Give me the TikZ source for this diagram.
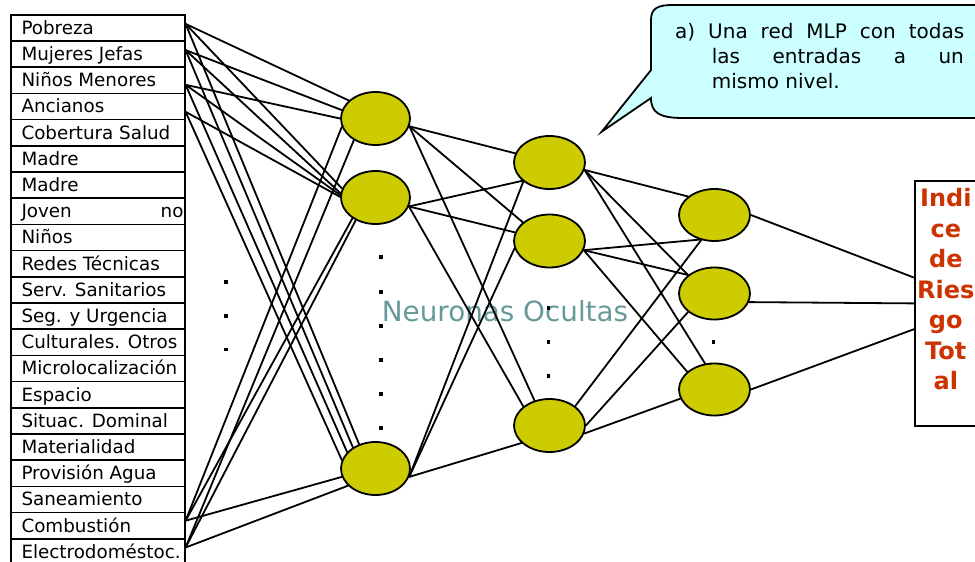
\documentclass[tikz,border=0pt]{standalone}
\usepackage{fontspec}
\setmainfont{DejaVu Sans}
\usetikzlibrary{shapes.geometric}
\definecolor{neuronfill}{RGB}{204,204,0}
\definecolor{bubble}{RGB}{204,255,255}
\definecolor{hidtxt}{RGB}{102,153,153}
\definecolor{outred}{RGB}{204,51,0}
\newcommand\rowlabel[1]{\makebox[174pt][l]{\hspace{10.7pt}#1}}
\begin{document}
\begin{tikzpicture}[x=1pt,y=-1pt,
  inrow/.style={draw, line width=1.6pt, rectangle, inner sep=0pt, minimum width=174pt,
    text height=19.5pt, text depth=6.7pt, anchor=north west, font=\fontsize{18.3}{22}\selectfont},
  neuron/.style={ellipse, draw, line width=1.8pt, fill=neuronfill, inner sep=0pt,
    minimum width=69pt, minimum height=53pt},
  neuronw/.style={neuron, minimum width=71pt},
  conn/.style={draw, line width=1.8pt, line cap=round},
  dotsq/.style={rectangle, fill=black, inner sep=0pt, minimum size=3.4pt},
  txt/.style={font=\fontsize{20}{24}\selectfont, inner sep=0pt, anchor=base west}
]
\useasboundingbox (0,0) rectangle (975,562);

% input rows
\foreach \t [count=\i] in {Pobreza, Mujeres Jefas, Niños Menores, Ancianos, Cobertura Salud,
  Madre, Madre, {Joven\hfill no\hspace{1.3pt}}, Niños, Redes Técnicas, Serv. Sanitarios,
  Seg. y Urgencia, Culturales. Otros, Microlocalización, Espacio, Situac. Dominal,
  Materialidad, Provisión Agua, Saneamiento, Combustión, Electrodoméstoc.}
  \node[inrow] (in\i) at (10,{14+26.2*(\i-1)}) {\rowlabel{\t}};

% callout
\draw[line width=1.8pt, fill=bubble] (995,5) -- (673,5)
  .. controls (658,5) and (651,8) .. (651,20) -- (651,70) -- (601.7,131.7) -- (651,98)
  .. controls (651,113) and (660,118) .. (683,118) -- (995,118) -- cycle;
\node[txt] (c1) at (675,38.3) {\makebox[289pt][s]{a) Una red MLP con todas}};
\node[txt] (c2) at (711.7,63.3) {\makebox[252pt][s]{las entradas a un}};
\node[txt] (c3) at (711.7,88.3) {mismo nivel.};

% hidden label
\node[inner sep=0pt, anchor=base west, text=hidtxt, font=\fontsize{27.8}{32}\selectfont]
  (hl) at (381.7,321) {Neuronas Ocultas};

% output box
\node[draw, line width=1.8pt, rectangle, minimum width=76pt, minimum height=245pt,
  inner sep=0pt, anchor=north west] (out) at (914,180) {};
\node[anchor=north, align=center, inner sep=0pt, text=outred,
  font=\fontsize{24}{30.5}\selectfont\bfseries] (outlbl) at (945.8,188.2)
  {Indi\\ce\\de\\Ries\\go\\Tot\\al};

% neurons
\node[neuron] (h1a) at (375.5,118.5) {};
\node[neuron] (h1b) at (375.5,197.5) {};
\node[neuron] (h1c) at (375.5,468.5) {};
\node[neuronw] (h2a) at (549.5,162.5) {};
\node[neuronw] (h2b) at (549.5,241) {};
\node[neuronw] (h2c) at (549.5,425.5) {};
\node[neuronw, minimum height=52pt] (h3a) at (714.5,215) {};
\node[neuronw, minimum height=52pt] (h3b) at (714.5,293.5) {};
\node[neuronw, minimum height=52pt] (h3c) at (714.5,389.5) {};

% dots
\node[dotsq] (d1) at (226,282) {};
\node[dotsq] (d2) at (226,316) {};
\node[dotsq] (d3) at (226,349.5) {};
\node[dotsq] (d4) at (381,257) {};
\node[dotsq] (d5) at (381,292) {};
\node[dotsq] (d6) at (381,326) {};
\node[dotsq] (d7) at (381,360) {};
\node[dotsq] (d8) at (381,394) {};
\node[dotsq] (d9) at (381,428) {};
\node[dotsq] (d10) at (548.5,308) {};
\node[dotsq] (d11) at (548.5,342) {};
\node[dotsq] (d12) at (548.5,376) {};
\node[dotsq] (d13) at (713.5,342) {};

% input -> hidden 1
\draw[conn] ([yshift=4pt]in1.east) -- (h1a.146);
\draw[conn] ([yshift=4pt]in1.east) -- (h1b.165);
\draw[conn] ([yshift=4pt]in1.east) -- (h1c.124);
\draw[conn] ([yshift=4pt]in2.east) -- (h1a.166);
\draw[conn] ([yshift=4pt]in2.east) -- (h1b.173);
\draw[conn] ([yshift=4pt]in2.east) -- (h1c.137);
\draw[conn] ([yshift=-4.5pt]in3.east) -- (h1a.180);
\draw[conn] ([yshift=-4.5pt]in3.east) -- (h1b.176);
\draw[conn] ([yshift=-4.5pt]in3.east) -- (h1c.150);
\draw[conn] ([yshift=-5.3pt]in4.east) -- (h1b.179);
\draw[conn] ([yshift=-5.3pt]in4.east) -- (h1c.166);
\draw[conn] ([yshift=5pt]in20.east) -- (h1a.194);
\draw[conn] ([yshift=5pt]in20.east) -- (h1b.222);
\draw[conn] ([yshift=5pt]in20.east) -- (h1c.194);
\draw[conn] ([yshift=4.4pt]in21.east) -- (h1a.225);
\draw[conn] ([yshift=4.4pt]in21.east) -- (h1b.229);
\draw[conn] ([yshift=4.4pt]in21.east) -- (h1c.212);

% hidden 1 -> hidden 2
\draw[conn] (h1a.347) -- (h2a.165);
\draw[conn] (h1a.347) -- (h2b.145);
\draw[conn] (h1a.347) -- (h2c.121);
\draw[conn] (h1b.345) -- (h2a.214);
\draw[conn] (h1b.345) -- (h2b.166);
\draw[conn] (h1b.345) -- (h2c.144);
\draw[conn] (h1c.346) -- (h2a.216);
\draw[conn] (h1c.346) -- (h2b.192);
\draw[conn] (h1c.346) -- (h2c.212);

% hidden 2 -> hidden 3
\draw[conn] (h2a.348) -- (h3a.145);
\draw[conn] (h2a.348) -- (h3b.145);
\draw[conn] (h2a.348) -- (h3c.110);
\draw[conn] (h2b.345) -- (h3a.239);
\draw[conn] (h2b.345) -- (h3b.145);
\draw[conn] (h2b.345) -- (h3c.147);
\draw[conn] (h2c.37) -- (h3a.242);
\draw[conn] (h2c.0) -- (h3b.215);
\draw[conn] (h2c.347) -- (h3c.195);

% hidden 3 -> output
\draw[conn] (h3a.0) -- ([yshift=25.8pt]out.west);
\draw[conn] (h3b.346) -- (out.west);
\draw[conn] (h3c.0) -- ([yshift=-25.8pt]out.west);
\end{tikzpicture}
\end{document}
